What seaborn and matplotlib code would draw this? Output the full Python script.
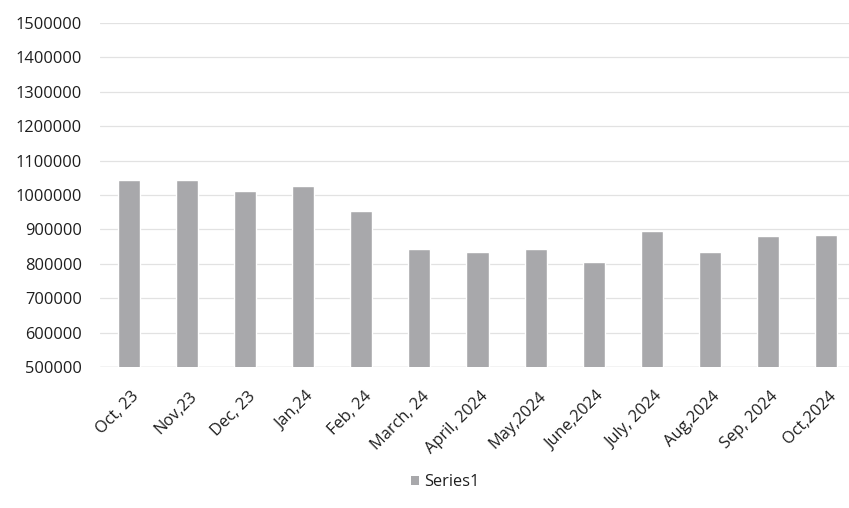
import matplotlib
matplotlib.use("Agg")
import matplotlib.pyplot as plt
import matplotlib.transforms as mtransforms
import seaborn as sns
import pandas as pd
from matplotlib.patches import Patch

categories = ["Oct, 23", "Nov,23", "Dec, 23", "Jan,24", "Feb, 24", "March, 24",
              "April, 2024", "May,2024", "June,2024", "July, 2024", "Aug,2024",
              "Sep, 2024", "Oct,2024"]
values = [1043000, 1043000, 1011000, 1026000, 953000, 842000,
          833000, 843000, 806000, 896000, 834000, 882000, 885000]
y_ticks = [500000, 600000, 700000, 800000, 900000, 1000000,
           1100000, 1200000, 1300000, 1400000, 1500000]
series_name = "Series1"

df = pd.DataFrame({"month": categories, "value": values})

sns.set_theme(style="white")
plt.rcParams["font.family"] = ["Open Sans", "DejaVu Sans"]

fig = plt.figure(figsize=(8.49, 5.08), dpi=100)
ax = fig.add_axes([100 / 849, 1 - 367 / 508, 755 / 849, 344 / 508])

bar_color = "#a8a8ab"
sns.barplot(data=df, x="month", y="value", color=bar_color, width=0.38,
            saturation=1, ax=ax, zorder=3)

ax.set_ylim(500000, 1500000)
ax.set_yticks(y_ticks)
ax.set_yticklabels([str(v) for v in y_ticks])
ax.yaxis.grid(True, color="#e2e2e2", linewidth=0.9, zorder=0)
ax.set_axisbelow(True)
for s in ax.spines.values():
    s.set_visible(False)
ax.axhline(500000, color="#d6d6d6", linewidth=1.0, zorder=1)

fs = 11.8
ax.set_xlabel("")
ax.set_ylabel("")
ax.tick_params(axis="y", length=0, pad=13, labelsize=fs, labelcolor="#1e1e1e")
ax.tick_params(axis="x", length=0, pad=13, labelsize=fs, labelcolor="#1e1e1e")
offset = mtransforms.ScaledTranslation(0.08, -0.09, fig.dpi_scale_trans)
for lab in ax.get_xticklabels():
    lab.set_rotation(45)
    lab.set_ha("right")
    lab.set_va("center")
    lab.set_rotation_mode("anchor")
    lab.set_transform(lab.get_transform() + offset)

handle = Patch(facecolor=bar_color, edgecolor="none", label=series_name)
fig.legend(handles=[handle], loc="center", bbox_to_anchor=(445 / 849, 1 - 482 / 508),
           frameon=False, fontsize=fs, handlelength=0.5, handleheight=0.5,
           handletextpad=0.3, labelcolor="#1e1e1e")

fig.savefig("out.png", dpi=100, facecolor="white")
